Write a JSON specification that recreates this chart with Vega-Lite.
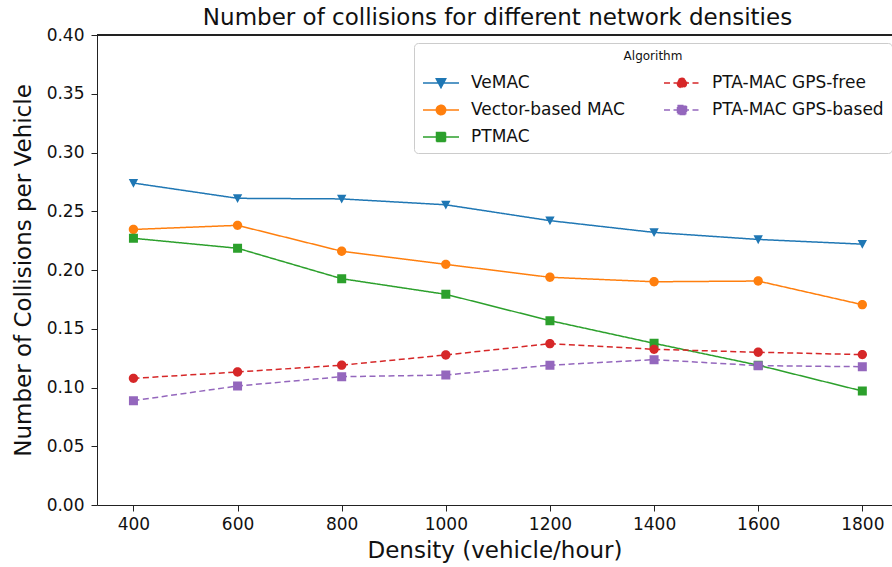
{
  "$schema": "https://vega.github.io/schema/vega-lite/v6.json",
  "autosize": {"type": "none"},
  "padding": {"left": 97, "top": 35, "right": 0, "bottom": 62},
  "width": 795,
  "height": 470,
  "background": "white",
  "config": {
    "font": "DejaVu Sans",
    "view": {"stroke": null},
    "axis": {"grid": false, "domainColor": "#222", "tickColor": "#222", "labelColor": "#111", "titleColor": "#111", "labelFont": "DejaVu Sans", "titleFont": "DejaVu Sans", "titleFontWeight": "normal"}
  },
  "title": {"text": "Number of collisions for different network densities", "fontSize": 23, "fontWeight": "normal", "color": "#111", "anchor": "middle", "offset": -4, "dx": 3},
  "data": {"values": [
    {"density": 400, "algorithm": "VeMAC", "value": 0.274},
    {"density": 600, "algorithm": "VeMAC", "value": 0.261},
    {"density": 800, "algorithm": "VeMAC", "value": 0.2605},
    {"density": 1000, "algorithm": "VeMAC", "value": 0.2555},
    {"density": 1200, "algorithm": "VeMAC", "value": 0.242},
    {"density": 1400, "algorithm": "VeMAC", "value": 0.232},
    {"density": 1600, "algorithm": "VeMAC", "value": 0.226},
    {"density": 1800, "algorithm": "VeMAC", "value": 0.222},
    {"density": 400, "algorithm": "Vector-based MAC", "value": 0.2345},
    {"density": 600, "algorithm": "Vector-based MAC", "value": 0.238},
    {"density": 800, "algorithm": "Vector-based MAC", "value": 0.216},
    {"density": 1000, "algorithm": "Vector-based MAC", "value": 0.2048},
    {"density": 1200, "algorithm": "Vector-based MAC", "value": 0.1938},
    {"density": 1400, "algorithm": "Vector-based MAC", "value": 0.19},
    {"density": 1600, "algorithm": "Vector-based MAC", "value": 0.1906},
    {"density": 1800, "algorithm": "Vector-based MAC", "value": 0.1705},
    {"density": 400, "algorithm": "PTMAC", "value": 0.227},
    {"density": 600, "algorithm": "PTMAC", "value": 0.2185},
    {"density": 800, "algorithm": "PTMAC", "value": 0.1926},
    {"density": 1000, "algorithm": "PTMAC", "value": 0.1793},
    {"density": 1200, "algorithm": "PTMAC", "value": 0.1569},
    {"density": 1400, "algorithm": "PTMAC", "value": 0.1376},
    {"density": 1600, "algorithm": "PTMAC", "value": 0.119},
    {"density": 1800, "algorithm": "PTMAC", "value": 0.097},
    {"density": 400, "algorithm": "PTA-MAC GPS-free", "value": 0.1078},
    {"density": 600, "algorithm": "PTA-MAC GPS-free", "value": 0.1132},
    {"density": 800, "algorithm": "PTA-MAC GPS-free", "value": 0.119},
    {"density": 1000, "algorithm": "PTA-MAC GPS-free", "value": 0.1277},
    {"density": 1200, "algorithm": "PTA-MAC GPS-free", "value": 0.1373},
    {"density": 1400, "algorithm": "PTA-MAC GPS-free", "value": 0.1325},
    {"density": 1600, "algorithm": "PTA-MAC GPS-free", "value": 0.13},
    {"density": 1800, "algorithm": "PTA-MAC GPS-free", "value": 0.128},
    {"density": 400, "algorithm": "PTA-MAC GPS-based", "value": 0.0888},
    {"density": 600, "algorithm": "PTA-MAC GPS-based", "value": 0.1013},
    {"density": 800, "algorithm": "PTA-MAC GPS-based", "value": 0.1092},
    {"density": 1000, "algorithm": "PTA-MAC GPS-based", "value": 0.1106},
    {"density": 1200, "algorithm": "PTA-MAC GPS-based", "value": 0.119},
    {"density": 1400, "algorithm": "PTA-MAC GPS-based", "value": 0.1237},
    {"density": 1600, "algorithm": "PTA-MAC GPS-based", "value": 0.1186},
    {"density": 1800, "algorithm": "PTA-MAC GPS-based", "value": 0.1177}
  ]},
  "encoding": {
    "x": {"field": "density", "type": "quantitative", "scale": {"domain": [330, 1857], "nice": false, "zero": false},
      "axis": {"values": [400, 600, 800, 1000, 1200, 1400, 1600, 1800], "format": "d", "title": "Density (vehicle/hour)", "labelFontSize": 17, "titleFontSize": 23, "tickSize": 6, "labelPadding": 5, "titlePadding": 7, "labelFlush": false}},
    "y": {"field": "value", "type": "quantitative", "scale": {"domain": [0, 0.4], "nice": false},
      "axis": {"values": [0, 0.05, 0.1, 0.15, 0.2, 0.25, 0.3, 0.35, 0.4], "format": ".2f", "title": "Number of Collisions per Vehicle", "labelFontSize": 17, "titleFontSize": 23, "tickSize": 6, "labelPadding": 7, "titlePadding": 11, "labelFlush": false}},
    "color": {"field": "algorithm", "type": "nominal",
      "scale": {"domain": ["VeMAC", "Vector-based MAC", "PTMAC", "PTA-MAC GPS-free", "PTA-MAC GPS-based"], "range": ["#1f77b4", "#ff7f0e", "#2ca02c", "#d62728", "#9467bd"]},
      "legend": {
        "title": "Algorithm", "orient": "none", "legendX": 317, "legendY": 8, "columns": 2, "columnPadding": 36, "rowPadding": 0,
        "symbolSize": 1296, "symbolStrokeWidth": 1.5, "labelOffset": 11, "labelFontSize": 17, "labelFont": "DejaVu Sans", "labelColor": "#111", "labelLimit": 400,
        "titleFontSize": 12, "titleFontWeight": "normal", "titleColor": "#111", "titleAnchor": "middle", "titlePadding": 1,
        "padding": 8, "strokeColor": "#cccccc", "fillColor": "white", "cornerRadius": 4
      }
    }
  },
  "layer": [
    {
      "mark": {"type": "rule", "color": "#222", "strokeWidth": 1},
      "encoding": {"y": {"datum": 0.4}, "x": null, "color": null}
    },
    {
      "mark": {"type": "line", "strokeWidth": 1.5},
      "encoding": {
        "strokeDash": {"field": "algorithm", "type": "nominal", "legend": null,
          "scale": {"domain": ["VeMAC", "Vector-based MAC", "PTMAC", "PTA-MAC GPS-free", "PTA-MAC GPS-based"], "range": [[1, 0], [1, 0], [1, 0], [6, 3.5], [6, 3.5]]}}
      }
    },
    {
      "mark": {"type": "point", "filled": true, "opacity": 1, "size": 1296},
      "encoding": {
        "shape": {"field": "algorithm", "type": "nominal", "legend": null,
          "scale": {"domain": ["VeMAC", "Vector-based MAC", "PTMAC", "PTA-MAC GPS-free", "PTA-MAC GPS-based"],
            "range": [
              "M-1,0H1M-0.26,-0.23L0.26,-0.23L0,0.26Z",
              "M-1,0H1M-0.26,0A0.26,0.26,0,1,0,0.26,0A0.26,0.26,0,1,0,-0.26,0Z",
              "M-1,0H1M-0.25,-0.25H0.25V0.25H-0.25Z",
              "M-1,0H1M-0.26,0A0.26,0.26,0,1,0,0.26,0A0.26,0.26,0,1,0,-0.26,0Z",
              "M-1,0H1M-0.25,-0.25H0.25V0.25H-0.25Z"
            ]}}
      }
    }
  ]
}
